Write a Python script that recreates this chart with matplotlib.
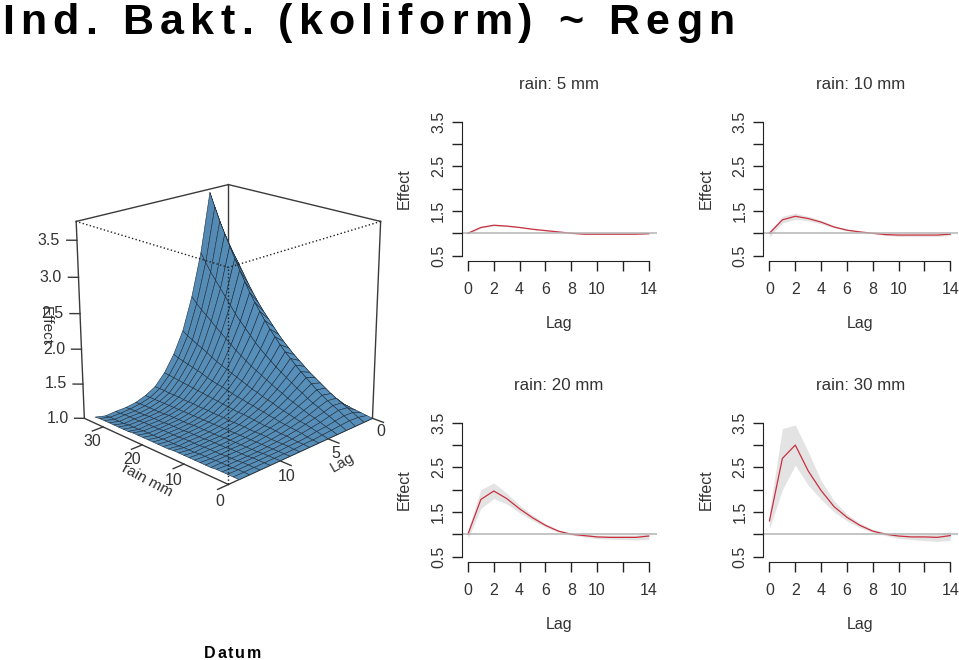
import matplotlib
matplotlib.use("Agg")
import matplotlib.pyplot as plt
from matplotlib.colors import LightSource
import numpy as np

plt.rcParams['font.family'] = ['Liberation Sans', 'DejaVu Sans']

W, H = 959, 660

lag = np.arange(15)
x_ticks = [0, 2, 4, 6, 8, 10, 12, 14]
x_labels = ['0', '2', '4', '6', '8', '10', '', '14']
y_ticks = [0.5, 1, 1.5, 2, 2.5, 3, 3.5]
y_labels = ['0.5', '', '1.5', '', '2.5', '', '3.5']

fit_5 = [1.00, 1.13, 1.18, 1.16, 1.13, 1.09, 1.06, 1.03, 1.00, 0.98, 0.98, 0.98, 0.98, 0.98, 0.99]
low_5 = [0.98, 1.11, 1.16, 1.15, 1.12, 1.08, 1.05, 1.02, 0.99, 0.97, 0.97, 0.97, 0.97, 0.97, 0.98]
high_5 = [1.02, 1.15, 1.20, 1.18, 1.14, 1.10, 1.07, 1.04, 1.01, 0.99, 0.99, 0.99, 0.99, 0.99, 1.00]

fit_10 = [1.00, 1.30, 1.38, 1.33, 1.25, 1.14, 1.07, 1.03, 1.00, 0.97, 0.96, 0.96, 0.96, 0.96, 0.98]
low_10 = [0.92, 1.23, 1.31, 1.28, 1.21, 1.12, 1.05, 1.02, 0.99, 0.95, 0.93, 0.93, 0.93, 0.93, 0.95]
high_10 = [1.05, 1.38, 1.45, 1.38, 1.29, 1.17, 1.09, 1.04, 1.01, 0.99, 0.98, 0.98, 0.98, 0.98, 1.00]

fit_20 = [1.00, 1.78, 1.97, 1.80, 1.57, 1.37, 1.20, 1.07, 1.00, 0.97, 0.94, 0.93, 0.93, 0.93, 0.96]
low_20 = [0.90, 1.58, 1.80, 1.68, 1.48, 1.31, 1.16, 1.05, 0.98, 0.94, 0.90, 0.89, 0.88, 0.87, 0.88]
high_20 = [1.10, 2.00, 2.15, 1.92, 1.65, 1.43, 1.24, 1.10, 1.02, 1.00, 0.98, 0.98, 0.98, 0.98, 1.02]

fit_30 = [1.30, 2.70, 3.00, 2.42, 1.98, 1.62, 1.38, 1.20, 1.07, 1.00, 0.96, 0.94, 0.94, 0.93, 0.97]
low_30 = [1.12, 2.00, 2.55, 2.10, 1.78, 1.50, 1.30, 1.15, 1.04, 0.97, 0.91, 0.88, 0.86, 0.84, 0.86]
high_30 = [1.50, 3.37, 3.45, 2.85, 2.20, 1.75, 1.45, 1.25, 1.11, 1.04, 1.00, 0.99, 0.99, 1.00, 1.06]

rain = np.arange(0, 36.25, 1.25)
effect = np.array([
    [1.00, 1.00, 1.00, 1.00, 1.00, 1.00, 1.00, 1.00, 1.00, 1.00, 1.00, 1.00, 1.00, 1.00, 1.00],
    [1.01, 1.04, 1.05, 1.04, 1.03, 1.02, 1.01, 1.01, 1.00, 1.00, 1.00, 1.00, 1.00, 1.00, 1.00],
    [1.02, 1.08, 1.09, 1.07, 1.05, 1.04, 1.02, 1.01, 1.01, 1.00, 1.00, 1.00, 1.00, 1.00, 1.00],
    [1.03, 1.12, 1.14, 1.11, 1.08, 1.06, 1.04, 1.02, 1.01, 1.00, 1.00, 1.00, 1.00, 0.99, 1.00],
    [1.04, 1.16, 1.18, 1.14, 1.11, 1.08, 1.05, 1.03, 1.01, 1.00, 0.99, 0.99, 0.99, 0.99, 1.00],
    [1.05, 1.20, 1.22, 1.18, 1.13, 1.09, 1.06, 1.03, 1.01, 1.00, 0.99, 0.99, 0.99, 0.99, 0.99],
    [1.06, 1.24, 1.27, 1.21, 1.16, 1.11, 1.07, 1.04, 1.02, 1.00, 0.99, 0.99, 0.99, 0.99, 0.99],
    [1.07, 1.29, 1.32, 1.25, 1.19, 1.13, 1.08, 1.05, 1.02, 1.00, 0.99, 0.99, 0.98, 0.98, 0.99],
    [1.08, 1.34, 1.38, 1.30, 1.22, 1.15, 1.10, 1.05, 1.02, 1.00, 0.99, 0.98, 0.98, 0.98, 0.99],
    [1.09, 1.39, 1.44, 1.34, 1.25, 1.17, 1.11, 1.06, 1.02, 1.00, 0.99, 0.98, 0.98, 0.98, 0.99],
    [1.10, 1.44, 1.50, 1.39, 1.29, 1.20, 1.13, 1.07, 1.03, 1.00, 0.99, 0.98, 0.98, 0.97, 0.99],
    [1.11, 1.50, 1.57, 1.44, 1.32, 1.22, 1.14, 1.08, 1.03, 1.00, 0.98, 0.98, 0.97, 0.97, 0.99],
    [1.12, 1.56, 1.64, 1.49, 1.36, 1.24, 1.16, 1.09, 1.03, 1.00, 0.98, 0.97, 0.97, 0.97, 0.99],
    [1.13, 1.62, 1.71, 1.54, 1.40, 1.27, 1.17, 1.09, 1.03, 1.00, 0.98, 0.97, 0.97, 0.96, 0.98],
    [1.15, 1.69, 1.79, 1.60, 1.44, 1.29, 1.19, 1.10, 1.04, 1.00, 0.98, 0.97, 0.97, 0.96, 0.98],
    [1.16, 1.76, 1.88, 1.66, 1.48, 1.32, 1.20, 1.11, 1.04, 1.00, 0.98, 0.97, 0.96, 0.96, 0.98],
    [1.17, 1.84, 1.97, 1.72, 1.52, 1.35, 1.22, 1.12, 1.04, 1.00, 0.98, 0.96, 0.96, 0.96, 0.98],
    [1.18, 1.93, 2.07, 1.79, 1.57, 1.38, 1.24, 1.13, 1.05, 1.00, 0.97, 0.96, 0.96, 0.95, 0.98],
    [1.20, 2.02, 2.18, 1.87, 1.62, 1.41, 1.26, 1.14, 1.05, 1.00, 0.97, 0.96, 0.96, 0.95, 0.98],
    [1.21, 2.11, 2.29, 1.95, 1.67, 1.44, 1.27, 1.15, 1.05, 1.00, 0.97, 0.96, 0.95, 0.95, 0.98],
    [1.23, 2.21, 2.41, 2.03, 1.73, 1.47, 1.29, 1.16, 1.06, 1.00, 0.97, 0.95, 0.95, 0.95, 0.98],
    [1.25, 2.32, 2.55, 2.12, 1.79, 1.50, 1.31, 1.17, 1.06, 1.00, 0.97, 0.95, 0.95, 0.94, 0.97],
    [1.26, 2.44, 2.69, 2.22, 1.85, 1.54, 1.34, 1.18, 1.06, 1.00, 0.96, 0.95, 0.95, 0.94, 0.97],
    [1.28, 2.57, 2.84, 2.32, 1.91, 1.58, 1.36, 1.19, 1.07, 1.00, 0.96, 0.95, 0.94, 0.94, 0.97],
    [1.30, 2.70, 3.00, 2.42, 1.98, 1.62, 1.38, 1.20, 1.07, 1.00, 0.96, 0.94, 0.94, 0.93, 0.97],
    [1.31, 2.82, 3.16, 2.52, 2.04, 1.65, 1.40, 1.21, 1.07, 1.00, 0.96, 0.94, 0.94, 0.93, 0.97],
    [1.33, 2.94, 3.32, 2.62, 2.10, 1.69, 1.42, 1.22, 1.08, 1.00, 0.96, 0.94, 0.94, 0.93, 0.97],
    [1.34, 3.09, 3.51, 2.74, 2.17, 1.73, 1.44, 1.23, 1.08, 1.00, 0.96, 0.94, 0.93, 0.93, 0.97],
    [1.36, 3.25, 3.70, 2.86, 2.25, 1.78, 1.47, 1.24, 1.08, 1.00, 0.95, 0.93, 0.93, 0.92, 0.96],
])

rain_ticks = [0, 10, 20, 30]
lag_ticks = [0, 5, 10]
z_ticks = [1.0, 1.5, 2.0, 2.5, 3.0, 3.5]

fig = plt.figure(figsize=(W / 100, H / 100), dpi=100)


def spaced_text(x, y, s, size, gap, space):
    # no letter spacing in matplotlib, so place the letters one by one
    rend = fig.canvas.get_renderer()
    for ch in s:
        if ch == ' ':
            x += space
            continue
        t = fig.text(x / W, 1 - y / H, ch, fontsize=size, fontweight='bold', color='black', ha='left', va='baseline')
        x += t.get_window_extent(rend).width + gap


panels = [
    (461.5, 116.4, 'rain: 5 mm', fit_5, low_5, high_5),
    (763.0, 116.4, 'rain: 10 mm', fit_10, low_10, high_10),
    (461.5, 417.4, 'rain: 20 mm', fit_20, low_20, high_20),
    (763.0, 417.4, 'rain: 30 mm', fit_30, low_30, high_30),
]

for left, top, title, fit, low, high in panels:
    ax = fig.add_axes([left / W, 1 - (top + 144.5) / H, 195 / W, 144.5 / H])
    ax.set_xlim(-0.5, 14.6)
    ax.set_ylim(0.38, 3.62)
    ax.fill_between(lag, low, high, color='#e3e3e3', lw=0)
    ax.plot(lag, fit, color='#c8303f', lw=0.9)
    ax.axhline(1, color='#b4b4b4', lw=1.1)
    for side in ['top', 'right']:
        ax.spines[side].set_visible(False)
    ax.spines['left'].set_bounds(0.5, 3.5)
    ax.spines['bottom'].set_bounds(0, 14)
    ax.spines['left'].set_color('#222222')
    ax.spines['bottom'].set_color('#222222')
    ax.set_xticks(x_ticks, x_labels)
    ax.set_yticks(y_ticks, y_labels, rotation=90, va='center')
    ax.tick_params(length=7, width=1, color='#222222', labelcolor='#333333', labelsize=11.5)
    ax.tick_params(axis='x', pad=8)
    ax.tick_params(axis='y', pad=4)
    ax.set_xlabel('Lag', fontsize=11.5, color='#333333', labelpad=14)
    ax.set_ylabel('Effect', fontsize=11.5, color='#333333', labelpad=14)
    ax.set_title(title, fontsize=12.2, color='#333333', pad=20)

ax3 = fig.add_axes([23 / W, 1 - 528 / H, 400 / W, 400 / H], projection='3d', computed_zorder=False)
ax3.patch.set_alpha(0)
ax3.set_proj_type('persp', focal_length=0.6)
ax3.view_init(elev=20, azim=135)
ax3.set_box_aspect((1, 1, 1.0), zoom=0.88)
ax3.set_axis_off()
ax3.set_xlim(0, 35)
ax3.set_ylim(0, 15)
ax3.set_zlim(1, 3.75)

rr, ll = np.meshgrid(rain, lag, indexing='ij')
ax3.plot_surface(rr, ll, effect, rstride=1, cstride=1, color='#62a2d2', edgecolor='#1d2d3d',
                 linewidth=0.4, shade=True, lightsource=LightSource(azdeg=90, altdeg=-40), zorder=3)

edge = '#3a3a3a'
zlo, zhi = 1, 3.75
# back edges behind the surface
for xs, ys, zs in [([35, 35], [0, 0], [zlo, zhi]), ([35, 35], [0, 15], [zhi, zhi]), ([35, 0], [0, 0], [zhi, zhi])]:
    ax3.plot(xs, ys, zs, color=edge, lw=1, zorder=1)
# outer edges
for xs, ys, zs in [([35, 35], [15, 15], [zlo, zhi]), ([0, 0], [0, 0], [zlo, zhi]),
                   ([0, 35], [15, 15], [zlo, zlo]), ([0, 0], [0, 15], [zlo, zlo])]:
    ax3.plot(xs, ys, zs, color=edge, lw=1, zorder=2)
# near edges are dotted and stay on top
for xs, ys, zs in [([0, 0], [15, 15], [zlo, zhi]), ([0, 35], [15, 15], [zhi, zhi]), ([0, 0], [0, 15], [zhi, zhi])]:
    ax3.plot(xs, ys, zs, color='#222222', lw=1, ls=':', zorder=4)

for r in rain_ticks:
    ax3.plot([r, r], [15, 16.0], [1, 1], color=edge, lw=1, zorder=2)
    ax3.text(r - 3, 17.1, 1, str(r), fontsize=11.5, color='#333333', ha='center', va='center')
for l in lag_ticks:
    ax3.plot([0, -2.4], [l, l], [1, 1], color=edge, lw=1, zorder=2)
    ax3.text(-4.5, l + 1.4, 1, str(l), fontsize=11.5, color='#333333', ha='center', va='center')
for z in z_ticks:
    ax3.plot([35, 36.2], [15, 15.5], [z, z], color=edge, lw=1, zorder=2)
    ax3.text(38.3, 16.37, z, '%.1f' % z, fontsize=11.5, color='#333333', ha='center', va='center')

fig.text(123 / W, 1 - 467 / H, 'rain mm', fontsize=11, color='#333333', rotation=-28, ha='left', va='center', rotation_mode='anchor')
fig.text(342 / W, 1 - 463 / H, 'Lag', fontsize=11, color='#333333', rotation=30, ha='center', va='center')
fig.text(46 / W, 1 - 325 / H, 'Effect', fontsize=11, color='#333333', rotation=-90, ha='center', va='center')

spaced_text(2, 34, 'Ind. Bakt. (koliform) ~ Regn', 31, 6.3, 19)
spaced_text(204, 658, 'Datum', 11.5, 1.8, 5)

fig.savefig('out.png', dpi=100)
